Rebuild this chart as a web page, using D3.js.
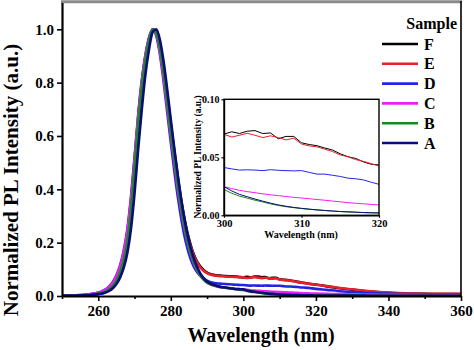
<!DOCTYPE html>
<html>
<head>
<meta charset="utf-8">
<script src="https://cdn.jsdelivr.net/npm/d3@7"></script>
<style>
  body { margin: 0; background: #fff; }
  svg text { font-family: "Liberation Serif", "Times New Roman", serif; font-weight: bold; fill: #000; }
</style>
</head>
<body>
<div id="chart"></div>
<script>
// wavelength grid (nm) shared by every sample
const wavelengths = [
  250, 253, 256, 258,
  260, 261, 262, 263, 264, 265, 266, 267, 268, 269,
  270, 271, 272, 273, 274, 275, 276, 277, 278, 279,
  280, 281, 282, 283, 284, 285, 286, 287, 288, 289,
  290, 291, 292, 293, 294, 295, 296, 297, 298, 299,
  300, 301, 302, 303, 304, 305, 306, 307, 308, 309,
  310, 311, 312, 313, 314, 315, 316, 317, 318, 319,
  320, 323, 326, 330, 335, 340, 345, 350, 355, 360
];

const sampleF = [
  0.001, 0.0015, 0.0028, 0.0045,
  0.008, 0.0105, 0.015, 0.022, 0.033, 0.051, 0.078, 0.12, 0.182, 0.285,
  0.43, 0.6, 0.74, 0.86, 0.945, 0.995, 0.995, 0.945, 0.86, 0.755,
  0.645, 0.54, 0.44, 0.35, 0.275, 0.215, 0.168, 0.136, 0.113, 0.098,
  0.088, 0.082, 0.079, 0.077, 0.076, 0.075, 0.074, 0.074, 0.073, 0.0715,
  0.070, 0.072, 0.0705, 0.0725, 0.073, 0.0705, 0.071, 0.066, 0.068, 0.068,
  0.0625, 0.061, 0.060, 0.058, 0.0563, 0.053, 0.0505, 0.049, 0.046, 0.044,
  0.0434, 0.036, 0.03, 0.024, 0.017, 0.012, 0.0095, 0.008, 0.0075, 0.007
];
const sampleE = [
  0.001, 0.002, 0.0035, 0.006,
  0.011, 0.015, 0.021, 0.031, 0.046, 0.069, 0.103, 0.155, 0.235, 0.355,
  0.51, 0.67, 0.8, 0.9, 0.965, 1.0, 0.98, 0.92, 0.83, 0.725,
  0.615, 0.515, 0.42, 0.335, 0.265, 0.208, 0.163, 0.132, 0.11, 0.095,
  0.086, 0.08, 0.077, 0.075, 0.074, 0.073, 0.072, 0.072, 0.071, 0.070,
  0.0698, 0.0675, 0.069, 0.0707, 0.069, 0.067, 0.0685, 0.067, 0.065, 0.0665,
  0.0615, 0.0598, 0.059, 0.057, 0.055, 0.052, 0.0505, 0.048, 0.0465, 0.0445,
  0.0425, 0.037, 0.031, 0.025, 0.018, 0.013, 0.01, 0.0085, 0.008, 0.008
];
const sampleD = [
  0.001, 0.0025, 0.0045, 0.0075,
  0.013, 0.018, 0.025, 0.036, 0.053, 0.078, 0.115, 0.17, 0.25, 0.37,
  0.52, 0.68, 0.81, 0.905, 0.97, 1.0, 0.975, 0.905, 0.805, 0.69,
  0.575, 0.465, 0.365, 0.28, 0.21, 0.158, 0.12, 0.094, 0.077, 0.065,
  0.057, 0.052, 0.049, 0.047, 0.046, 0.045, 0.044, 0.043, 0.042, 0.0415,
  0.0412, 0.040, 0.039, 0.0392, 0.039, 0.0385, 0.0393, 0.0388, 0.0385, 0.0383,
  0.0385, 0.037, 0.0355, 0.0355, 0.0345, 0.0335, 0.032, 0.0315, 0.0305, 0.0285,
  0.0267, 0.023, 0.019, 0.015, 0.011, 0.009, 0.007, 0.006, 0.0055, 0.005
];
const sampleC = [
  0.001, 0.0025, 0.0042, 0.007,
  0.012, 0.017, 0.024, 0.034, 0.05, 0.074, 0.11, 0.163, 0.242, 0.36,
  0.51, 0.67, 0.8, 0.9, 0.965, 1.0, 0.98, 0.915, 0.82, 0.71,
  0.6, 0.495, 0.395, 0.31, 0.238, 0.18, 0.136, 0.103, 0.079, 0.062,
  0.05, 0.043, 0.038, 0.035, 0.032, 0.031, 0.029, 0.028, 0.0265, 0.0255,
  0.0247, 0.023, 0.0215, 0.0204, 0.0195, 0.0185, 0.0177, 0.017, 0.0162, 0.0155,
  0.0149, 0.0143, 0.0136, 0.013, 0.0123, 0.0116, 0.0109, 0.0104, 0.0099, 0.0094,
  0.0089, 0.0078, 0.007, 0.006, 0.0052, 0.0047, 0.0043, 0.004, 0.004, 0.004
];
const sampleB = [
  0.001, 0.002, 0.003, 0.005,
  0.009, 0.012, 0.017, 0.025, 0.038, 0.058, 0.088, 0.135, 0.205, 0.32,
  0.48, 0.645, 0.78, 0.885, 0.96, 1.0, 0.985, 0.93, 0.84, 0.73,
  0.615, 0.51, 0.41, 0.32, 0.245, 0.185, 0.14, 0.106, 0.08, 0.062,
  0.05, 0.044, 0.04, 0.036, 0.033, 0.031, 0.029, 0.027, 0.025, 0.0235,
  0.0222, 0.019, 0.0165, 0.0148, 0.013, 0.0115, 0.0098, 0.0085, 0.0074, 0.0066,
  0.0058, 0.0052, 0.0046, 0.0041, 0.0036, 0.0032, 0.0029, 0.0026, 0.0023, 0.0021,
  0.002, 0.0017, 0.0015, 0.0013, 0.0012, 0.0011, 0.001, 0.001, 0.001, 0.001
];
const sampleA = [
  0.001, 0.0015, 0.0025, 0.004,
  0.007, 0.009, 0.013, 0.019, 0.029, 0.045, 0.069, 0.105, 0.16, 0.25,
  0.385, 0.55, 0.70, 0.83, 0.925, 0.99, 1.0, 0.96, 0.88, 0.775,
  0.66, 0.55, 0.445, 0.35, 0.27, 0.205, 0.155, 0.117, 0.088, 0.068,
  0.054, 0.046, 0.041, 0.037, 0.034, 0.032, 0.03, 0.028, 0.0265, 0.0255,
  0.0247, 0.021, 0.018, 0.016, 0.014, 0.0122, 0.0105, 0.009, 0.0078, 0.0068,
  0.006, 0.0053, 0.0047, 0.0042, 0.0037, 0.0033, 0.003, 0.0027, 0.0024, 0.0022,
  0.002, 0.0017, 0.0015, 0.0013, 0.0012, 0.0011, 0.001, 0.001, 0.001, 0.001
];

const sampleNames = ["F", "E", "D", "C", "B", "A"];
const sampleValues = [sampleF, sampleE, sampleD, sampleC, sampleB, sampleA];
const sampleColors = ["#000000", "#e8202a", "#2323e6", "#f01ef0", "#178a1e", "#0c0c78"];

const xTicks = [260, 280, 300, 320, 340, 360];
const xMinorTicks = [250, 270, 290, 310, 330, 350];
const yTicks = [0.0, 0.2, 0.4, 0.6, 0.8, 1.0];
const insetXTicks = [300, 310, 320];
const insetYTicks = [0.00, 0.05, 0.10];

const series = sampleNames.map((name, i) => ({
    name,
    color: sampleColors[i],
    points: wavelengths.map((w, j) => ({ w, v: sampleValues[i][j] }))
}));

const W = 474, H = 350;
const svg = d3.select("#chart").append("svg")
    .attr("width", W).attr("height", H);

// main plot
const x = d3.scaleLinear().domain([250, 360]).range([62, 461]);
const y = d3.scaleLinear().domain([0, 1.1]).range([296, 2.6]);

svg.append("clipPath").attr("id", "clipMain")
    .append("rect").attr("x", 62).attr("y", 2.6).attr("width", 399).attr("height", 293.4);

const line = d3.line().x(d => x(d.w)).y(d => y(d.v)).curve(d3.curveMonotoneX);

svg.append("g").attr("clip-path", "url(#clipMain)")
    .selectAll("path")
    .data(series)
    .enter().append("path")
    .attr("d", d => line(d.points))
    .attr("fill", "none")
    .attr("stroke", d => d.color)
    .attr("stroke-width", 2.6)
    .attr("stroke-linejoin", "round");

// frame
svg.append("line").attr("x1", 61).attr("x2", 462).attr("y1", 1.8).attr("y2", 1.8)
    .attr("stroke", "#8a8a8a").attr("stroke-width", 3);
svg.append("line").attr("x1", 461).attr("x2", 461).attr("y1", 1).attr("y2", 296)
    .attr("stroke", "#000").attr("stroke-width", 1.6);

const xAxis = svg.append("g")
    .attr("transform", "translate(0,296)")
    .call(d3.axisBottom(x).tickValues(xTicks).tickSize(5).tickSizeOuter(0).tickPadding(4));
xAxis.selectAll("text").style("font-size", "15px");
svg.append("g")
    .attr("transform", "translate(0,296)")
    .call(d3.axisBottom(x).tickValues(xMinorTicks).tickSize(3).tickFormat("").tickSizeOuter(0))
    .select(".domain").remove();

const yAxis = svg.append("g")
    .attr("transform", "translate(62,0)")
    .call(d3.axisLeft(y).tickValues(yTicks).tickFormat(d3.format(".1f")).tickSize(5).tickSizeOuter(0).tickPadding(3));
yAxis.selectAll("text").style("font-size", "15px");

svg.selectAll(".domain").attr("stroke-width", 2.2);
svg.selectAll(".tick line").attr("stroke-width", 1.6);

svg.append("text")
    .attr("x", 261).attr("y", 342)
    .attr("text-anchor", "middle")
    .style("font-size", "20px")
    .text("Wavelength (nm)");

svg.append("text")
    .attr("transform", "translate(18,180) rotate(-90)")
    .attr("text-anchor", "middle")
    .style("font-size", "21px")
    .text("Normalized PL Intensity (a.u.)");

// legend
svg.append("text")
    .attr("x", 457).attr("y", 29)
    .attr("text-anchor", "end")
    .style("font-size", "16px")
    .text("Sample");

const legend = svg.selectAll(".legend")
    .data(series)
    .enter().append("g")
    .attr("class", "legend")
    .attr("transform", (d, i) => `translate(382,${44 + i * 19.8})`);
legend.append("line")
    .attr("x1", 0).attr("x2", 36)
    .attr("stroke", d => d.color)
    .attr("stroke-width", 2.6);
legend.append("text")
    .attr("x", 42).attr("y", 5.5)
    .style("font-size", "16px")
    .text(d => d.name);

// inset
const ix = d3.scaleLinear().domain([300, 320]).range([224, 379]);
const iy = d3.scaleLinear().domain([0, 0.10]).range([215.3, 99.3]);

svg.append("rect")
    .attr("x", 224).attr("y", 99.3).attr("width", 155).attr("height", 116)
    .attr("fill", "#fff");

svg.append("clipPath").attr("id", "clipInset")
    .append("rect").attr("x", 224).attr("y", 99.3).attr("width", 155).attr("height", 116);

const insetLine = d3.line().x(d => ix(d.w)).y(d => iy(d.v));

svg.append("g").attr("clip-path", "url(#clipInset)")
    .selectAll("path")
    .data(series)
    .enter().append("path")
    .attr("d", d => insetLine(d.points.filter(p => p.w >= 300 && p.w <= 320)))
    .attr("fill", "none")
    .attr("stroke", d => d.color)
    .attr("stroke-width", 1);

svg.append("rect")
    .attr("x", 224).attr("y", 99.3).attr("width", 155).attr("height", 116)
    .attr("fill", "none").attr("stroke", "#000").attr("stroke-width", 1.4);

const ixAxis = svg.append("g")
    .attr("transform", "translate(0,215.3)")
    .call(d3.axisBottom(ix).tickValues(insetXTicks).tickSize(2.5).tickSizeOuter(0).tickPadding(2));
ixAxis.selectAll("text").style("font-size", "10.5px");

const iyAxis = svg.append("g")
    .attr("transform", "translate(224,0)")
    .call(d3.axisLeft(iy).tickValues(insetYTicks).tickFormat(d3.format(".2f")).tickSize(2.5).tickSizeOuter(0).tickPadding(2));
iyAxis.selectAll("text").style("font-size", "10px");

[ixAxis, iyAxis].forEach(g => {
    g.select(".domain").attr("stroke-width", 1.4);
    g.selectAll(".tick line").attr("stroke-width", 1.2);
});

svg.append("text")
    .attr("x", 301).attr("y", 238)
    .attr("text-anchor", "middle")
    .style("font-size", "10px")
    .text("Wavelength (nm)");

svg.append("text")
    .attr("transform", "translate(201,157) rotate(-90)")
    .attr("text-anchor", "middle")
    .style("font-size", "9.5px")
    .text("Normalized PL Intensity (a.u.)");
</script>
</body>
</html>
